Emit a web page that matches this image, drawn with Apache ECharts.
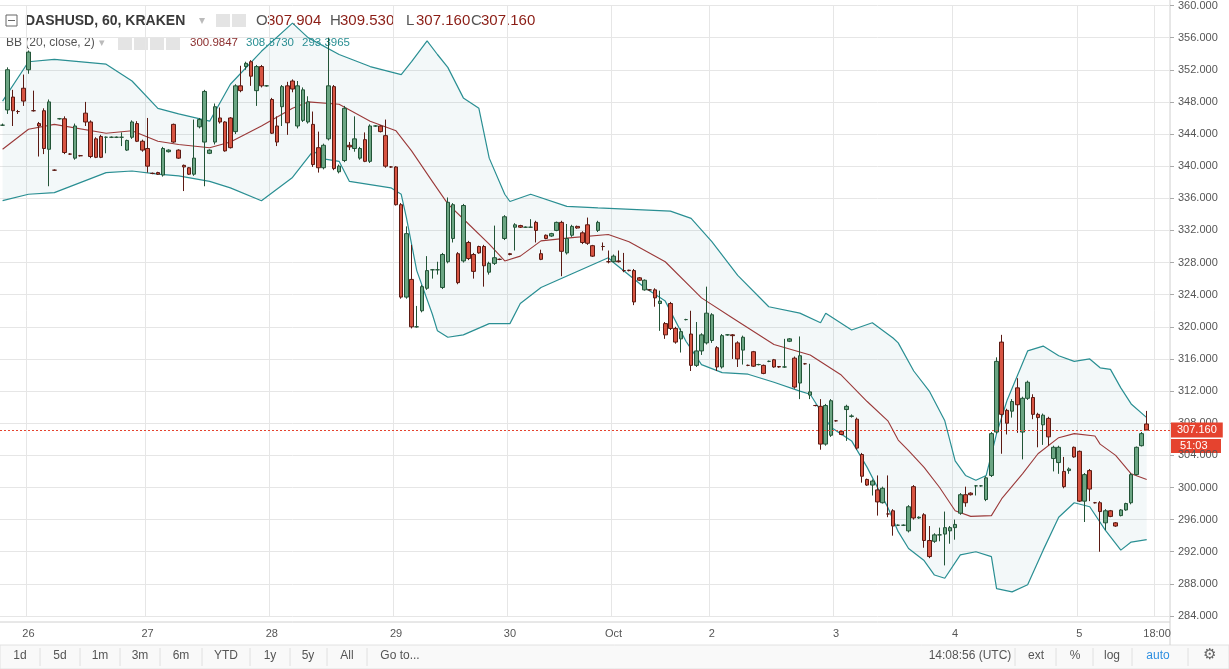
<!DOCTYPE html>
<html><head><meta charset="utf-8">
<script src="https://cdn.jsdelivr.net/npm/echarts@6/dist/echarts.min.js"></script>
<style>html,body{margin:0;padding:0;background:#fff}#c{width:1229px;height:669px}</style>
</head><body><div id="c"></div>
<script>
const opens=[345.1,347.0,348.6,346.8,349.7,352.0,346.9,345.3,346.9,342.1,339.5,345.9,345.9,341.5,341.0,341.3,346.6,345.5,343.4,343.7,343.6,343.6,343.6,343.6,342.0,343.6,345.3,343.1,342.2,339.1,339.2,338.9,341.8,345.2,342.0,340.1,339.8,339.0,344.9,343.0,341.6,343.0,346.0,345.5,346.0,344.3,350.0,352.4,353.0,349.4,352.4,350.0,348.3,345.0,347.4,350.0,350.6,345.0,345.7,345.5,345.2,342.3,339.8,343.4,349.9,339.3,340.7,342.6,342.2,341.0,343.3,340.6,345.0,345.0,343.8,339.9,339.9,335.2,323.7,325.9,320.0,322.0,324.8,327.1,327.1,324.9,328.1,331.0,329.1,328.2,330.5,329.0,330.0,330.0,326.8,327.9,328.4,331.0,329.1,332.4,332.6,332.4,332.4,333.0,329.1,331.4,331.3,332.0,333.0,329.2,331.4,332.5,331.7,332.7,330.1,332.0,330.0,328.1,328.1,328.2,327.0,327.05,327.0,326.1,324.6,324.6,324.6,322.9,320.4,322.9,319.8,318.5,320.9,319.1,315.2,317.0,318.0,318.3,317.4,315.0,319.0,319.0,318.0,317.1,315.2,316.9,315.3,315.2,315.7,315.9,315.05,315.0,318.2,316.1,313.0,315.4,311.5,310.2,310.1,305.4,306.5,308.3,307.0,309.7,308.85,308.5,304.1,301.0,300.3,299.7,298.1,296.7,297.1,295.3,295.3,294.6,300.1,296.2,296.6,293.4,293.3,294.1,294.2,294.6,295.0,296.8,299.1,299.3,300.2,300.2,298.5,301.5,306.9,318.1,309.6,309.5,312.4,306.9,311.1,311.2,309.1,307.8,308.6,303.6,303.1,302.0,302.1,305.0,304.5,298.3,302.1,298.1,298.1,295.6,297.1,295.6,296.5,297.2,298.1,301.6,305.2,307.904];
const closes=[345.1,352.0,346.9,346.8,348.1,354.2,346.9,345.0,342.2,348.0,339.5,345.9,341.7,341.5,345.0,341.3,345.5,341.2,341.1,341.1,343.6,343.6,343.6,343.6,343.2,345.5,343.1,342.0,340.0,339.1,339.0,342.2,342.0,343.0,341.0,339.9,339.0,341.0,345.8,349.3,342.0,347.4,345.5,341.9,342.3,350.0,349.4,352.8,351.2,352.4,350.0,350.0,344.1,343.0,349.9,345.4,349.6,350.0,349.5,348.0,340.2,339.8,342.6,350.0,339.7,340.0,347.2,342.4,343.4,342.2,340.6,345.0,345.0,344.3,340.0,339.9,335.2,323.7,331.6,320.0,320.0,325.0,327.0,327.1,327.1,329.0,335.5,335.2,325.5,335.1,328.5,326.9,329.2,327.6,327.9,328.6,328.4,333.7,329.0,332.7,332.4,332.4,332.4,332.0,328.4,331.0,331.6,333.0,329.4,331.0,332.5,332.3,330.5,330.4,328.8,333.0,330.0,328.1,328.8,328.1,327.0,327.0,323.1,325.8,325.8,324.6,323.6,323.2,319.0,319.8,318.1,319.4,320.9,315.2,317.0,319.0,321.7,321.5,315.0,318.9,319.0,318.9,316.0,318.7,315.2,315.1,315.3,314.2,315.7,315.0,315.0,315.0,318.5,312.5,316.4,315.4,311.9,310.2,305.4,310.2,310.8,308.3,306.6,310.1,308.9,304.9,301.4,300.3,300.8,298.2,299.9,296.7,295.2,295.3,295.3,297.6,296.2,296.3,293.4,291.4,294.1,294.1,295.0,295.0,295.4,299.1,298.1,299.1,300.2,300.2,301.2,306.7,315.7,309.1,308.0,310.7,310.3,311.1,313.1,309.1,308.7,309.0,306.3,305.0,305.0,300.1,302.3,303.8,298.3,301.6,299.8,298.1,297.0,297.1,296.4,295.2,297.2,298.0,301.6,305.0,306.7,307.16];
const lows=[345.0,346.5,345.0,346.5,347.5,351.5,346.8,341.2,341.5,337.5,339.4,345.8,341.5,341.4,340.8,341.2,345.0,341.0,341.0,341.0,341.6,343.5,343.5,342.5,341.9,343.4,343.0,341.8,339.2,339.0,338.9,338.7,341.7,342.9,340.9,336.9,338.9,338.8,344.7,337.5,341.5,342.7,345.3,341.8,342.2,344.0,349.2,352.0,350.0,347.5,349.8,349.9,344.0,342.5,345.0,343.9,349.2,344.7,345.5,345.3,339.9,339.2,339.6,343.2,339.5,339.1,340.5,342.0,341.8,340.8,340.5,340.4,344.9,344.2,339.8,339.8,335.1,323.5,323.5,319.8,319.9,321.8,324.6,326.0,326.5,324.7,327.9,330.5,325.3,328.0,328.3,326.0,329.1,325.0,326.5,327.7,328.3,330.8,328.9,329.5,332.3,332.3,332.3,330.5,328.3,330.9,331.2,331.9,326.3,329.0,331.2,332.2,330.3,330.2,328.7,331.8,329.5,327.9,328.0,328.0,326.8,326.9,322.7,325.7,324.5,324.5,322.5,319.5,318.5,319.6,317.9,316.8,320.8,314.5,315.0,316.5,317.8,318.0,314.5,314.8,318.9,316.0,315.0,315.3,315.1,315.0,315.2,314.1,315.6,314.9,314.9,314.9,318.1,312.3,311.0,315.3,311.0,310.1,304.7,305.2,306.3,308.2,306.5,305.8,308.7,304.7,300.6,300.2,299.0,296.5,298.0,296.3,294.0,295.2,295.2,294.4,296.0,296.1,292.5,291.2,293.1,293.3,290.3,293.0,293.5,296.6,297.6,299.0,299.0,300.1,298.3,301.3,306.7,304.2,306.6,308.7,306.8,303.5,310.9,308.5,305.0,305.3,305.2,302.0,301.7,299.9,301.7,303.7,298.2,295.7,298.3,298.0,292.0,294.7,296.3,295.1,296.4,297.1,297.9,301.5,305.1,307.16];
const highs=[345.3,352.3,349.5,347.0,351.4,354.4,349.4,345.5,347.2,348.3,339.6,346.0,346.2,341.6,345.3,341.4,348.0,345.7,343.6,343.9,343.7,343.7,343.7,344.2,343.3,345.7,345.6,343.3,346.0,339.2,339.3,342.4,342.1,345.3,342.1,340.2,339.9,345.8,346.0,349.5,342.1,347.8,347.3,345.6,346.1,350.2,352.5,353.0,353.2,352.6,352.6,350.1,348.5,346.2,350.1,350.5,350.8,350.6,349.8,348.7,346.8,344.3,342.8,356.0,350.1,340.2,347.5,343.0,346.2,342.4,344.2,345.2,345.1,345.1,345.8,340.0,340.0,335.4,332.5,330.2,322.6,325.2,328.8,327.2,328.1,329.2,336.1,335.4,329.3,335.3,330.7,329.2,330.1,330.2,328.1,332.6,328.5,333.9,329.2,332.9,332.7,332.5,333.4,333.2,329.6,331.5,331.7,333.1,333.2,332.8,332.7,332.6,331.9,333.6,330.2,333.2,330.5,329.5,329.0,329.5,329.2,327.1,327.2,326.2,325.9,324.7,324.8,324.5,320.6,323.1,320.0,319.8,321.0,322.0,320.6,319.2,325.0,321.7,317.6,319.1,319.1,319.1,318.2,318.9,315.3,317.0,315.4,315.3,315.8,316.0,315.1,318.5,318.6,316.3,318.8,315.5,315.4,310.3,311.0,310.4,311.0,308.4,307.1,310.3,309.1,308.7,304.3,301.1,301.0,301.5,300.1,301.5,297.3,295.4,295.4,297.8,300.3,296.4,296.8,295.2,294.3,295.0,297.0,295.2,296.0,299.3,300.1,299.4,300.3,300.3,301.4,306.9,316.2,319.0,309.8,311.0,313.6,311.3,313.3,311.6,309.3,309.2,308.8,305.2,305.2,303.8,302.5,305.1,304.6,301.8,302.3,298.2,298.3,297.3,297.2,295.7,297.3,298.1,301.8,305.1,306.9,309.53];
const upperBand=[[0,348.1],[5,353.0],[10,353.3],[20,352.7],[25,350.6],[30,347.2],[34,346.5],[40,345.6],[44,350.2],[50,354.3],[56,357.8],[59,356.0],[65,353.9],[71,352.4],[77,351.4],[79,353.0],[82,355.6],[84,353.9],[86,352.3],[89,348.5],[92,347.2],[94,341.0],[97,336.5],[98,335.6],[102,336.5],[109,335.0],[115,334.8],[129,334.4],[133,333.5],[137,330.6],[142,326.4],[148,322.5],[154,321.7],[158,320.5],[159,321.7],[164,319.6],[168,320.5],[172,318.6],[173,318.0],[176,314.5],[179,312.0],[182,308.3],[184,303.3],[186,301.5],[188,300.9],[190,301.5],[192,306.7],[194,310.8],[198,317.0],[201,317.6],[204,316.4],[207,315.7],[210,316.0],[212,314.9],[214,314.7],[216,312.4],[218,310.4],[221,308.7]];
const midBand=[[0,342.1],[5,344.6],[10,345.2],[20,344.1],[25,344.4],[30,343.1],[34,342.7],[40,342.3],[44,343.0],[50,345.0],[56,347.2],[59,348.0],[65,347.7],[71,345.6],[76,344.4],[79,341.9],[83,338.1],[86,335.3],[90,332.8],[94,330.3],[97,328.2],[100,328.8],[104,330.7],[110,331.1],[117,331.5],[121,330.6],[128,328.1],[135,323.6],[141,321.1],[149,317.8],[156,316.5],[162,314.0],[167,310.7],[171,308.3],[173,305.9],[175,304.6],[178,302.5],[181,300.0],[184,297.1],[187,296.4],[191,296.5],[193,298.6],[197,301.7],[200,304.2],[204,306.2],[207,306.7],[211,306.4],[212,305.4],[215,304.0],[218,301.7],[221,301.0]];
const lowerBand=[[0,335.7],[5,336.5],[10,336.7],[20,339.2],[25,339.4],[30,339.0],[34,338.8],[40,338.1],[44,337.3],[50,335.7],[56,338.6],[60,341.9],[62,340.9],[65,340.6],[67,338.1],[71,337.7],[75,337.3],[77,336.5],[78,333.6],[80,327.0],[83,321.6],[84,319.5],[86,318.7],[89,319.0],[94,320.4],[98,320.4],[100,322.9],[104,324.9],[110,326.6],[117,328.6],[118,328.0],[124,324.9],[128,323.2],[132,318.2],[135,315.3],[139,314.3],[144,314.1],[149,313.1],[154,312.0],[156,311.6],[160,307.5],[164,305.8],[167,302.5],[171,297.5],[173,294.5],[175,292.4],[178,290.9],[180,289.1],[182,288.7],[185,291.6],[188,292.0],[191,291.4],[192,287.4],[195,287.0],[198,287.9],[201,292.2],[204,296.3],[207,298.1],[210,297.6],[213,294.7],[216,292.2],[218,293.2],[221,293.5]];
const tickIdx=[5,28,52,76,98,118,137,161,184,208,223];
const tickText=['26','27','28','29','30','Oct','2','3','4','5','18:00'];
const N=226;
const cats=[];for(let i=0;i<N;i++)cats.push('c'+i);
const ohlc=opens.map((o,i)=>[o,closes[i],lows[i],highs[i]]);
const lastPrice=closes[closes.length-1];

const chart=echarts.init(document.getElementById('c'));
const FF='"Liberation Sans", Arial, sans-serif';
const txt=(x,y,t,c,s,w,a)=>({type:'text',x:x,y:y,style:{text:t,fill:c,font:(w||'normal')+' '+(s||12)+'px '+FF,textAlign:a||'left',textVerticalAlign:'middle'}});
const box=(x,y)=>({type:'rect',shape:{x:x,y:y,width:14,height:13},style:{fill:'#e4e4e4'}});
const graphics=[
 {type:'rect',shape:{x:0,y:645,width:1229,height:24},style:{fill:'#f9f9f9',stroke:'#e2e2e2'}},
 {type:'line',shape:{x1:0,y1:622,x2:1170,y2:622},style:{stroke:'#d0d0d0'}},
 {type:'line',shape:{x1:1170,y1:0,x2:1170,y2:645},style:{stroke:'#d0d0d0'}},
 {type:'rect',shape:{x:6,y:15,width:11,height:11},style:{fill:'none',stroke:'#666'}},
 {type:'line',shape:{x1:8,y1:20.5,x2:15,y2:20.5},style:{stroke:'#666'}},
 txt(25,21,'DASHUSD, 60, KRAKEN','#3a3a3a',14,'bold'),
 {type:'text',x:199,y:21,style:{text:'▾',fill:'#bbb',font:'12px '+FF,textVerticalAlign:'middle'}},
 box(216,14),box(232,14),
 txt(256,21,'O','#555',15),txt(267,21,'307.904','#8b1d15',15),
 txt(330,21,'H','#555',15),txt(340,21,'309.530','#8b1d15',15),
 txt(406,21,'L','#555',15),txt(416,21,'307.160','#8b1d15',15),
 txt(471,21,'C','#555',15),txt(481,21,'307.160','#8b1d15',15),
 txt(6,43,'BB (20, close, 2)','#555',12),
 {type:'text',x:99,y:43,style:{text:'▾',fill:'#bbb',font:'11px '+FF,textVerticalAlign:'middle'}},
 box(118,37),box(134,37),box(150,37),box(166,37),
 txt(190,43,'300.9847','#8b2e2e',11.5),txt(246,43,'308.8730','#2a8f93',11.5),txt(302,43,'293.3965','#2a8f93',11.5),
 {type:'rect',shape:{x:1170,y:439,width:51,height:14},style:{fill:'#e5432f'}},
 txt(1180,446,'51:03','#fff',11)
];
const bottomItems=[['1d',20],['5d',60],['1m',100],['3m',140],['6m',181],['YTD',226],['1y',270],['5y',308],['All',347],['Go to...',400],['14:08:56 (UTC)',970],['ext',1036],['%',1075],['log',1112]];
bottomItems.forEach(([t,x])=>graphics.push(txt(x,656,t,'#555',12,'normal','center')));
graphics.push(txt(1158,656,'auto','#2f8fe0',12,'normal','center'));
graphics.push(txt(1209,655,'⚙','#666',15,'normal','center'));
[40,80,120,160,202,250,290,327,367,1015,1056,1093,1132,1188].forEach(x=>graphics.push({type:'line',shape:{x1:x,y1:648,x2:x,y2:666},style:{stroke:'#e0e0e0'}}));

chart.setOption({
 animation:false,
 grid:{left:0,right:59,top:4,bottom:53},
 xAxis:{type:'category',data:cats,boundaryGap:true,
  axisLine:{show:false},axisTick:{show:false},
  axisLabel:{interval:(i)=>tickIdx.includes(i),formatter:(v,i)=>tickText[tickIdx.indexOf(i)]||'',color:'#555',fontSize:11,margin:12,fontFamily:'Liberation Sans'},
  splitLine:{show:true,interval:(i)=>tickIdx.includes(i),lineStyle:{color:'#e6e6e6'}}},
 yAxis:{type:'value',position:'right',min:284,max:360,interval:4,
  axisLine:{show:false},axisTick:{show:true,length:4,lineStyle:{color:'#aaa'}},
  axisLabel:{formatter:v=>v.toFixed(3),color:'#555',fontSize:11,margin:8,fontFamily:'Liberation Sans'},
  splitLine:{lineStyle:{color:'#e6e6e6'}}},
 graphic:graphics,
 series:[
  {type:'custom',data:[[0,300]],silent:true,z:1,
   renderItem:(p,api)=>{
     const pts=upperBand.map(d=>api.coord(d)).concat(lowerBand.slice().reverse().map(d=>api.coord(d)));
     return {type:'polygon',shape:{points:pts},style:{fill:'rgba(43,143,147,0.06)',stroke:'none'}};
   }},
  {type:'line',data:upperBand,showSymbol:false,z:2,lineStyle:{color:'#2a8f93',width:1.2}},
  {type:'line',data:lowerBand,showSymbol:false,z:2,lineStyle:{color:'#2a8f93',width:1.2}},
  {type:'line',data:midBand,showSymbol:false,z:2,lineStyle:{color:'#9b3a3a',width:1.1}},
  {type:'candlestick',data:ohlc,z:3,barWidth:'78%',
   itemStyle:{color:'#6ba583',color0:'#d75442',borderColor:'#225437',borderColor0:'#5b1a13',borderWidth:1},
   markLine:{symbol:'none',silent:true,data:[{yAxis:lastPrice}],
    lineStyle:{color:'#e5432f',type:[2,2],width:1},
    label:{position:'end',formatter:()=>lastPrice.toFixed(3),color:'#fff',backgroundColor:'#e5432f',padding:[2,6,2,6],fontSize:11,distance:1}}}
 ]
});
</script></body></html>
